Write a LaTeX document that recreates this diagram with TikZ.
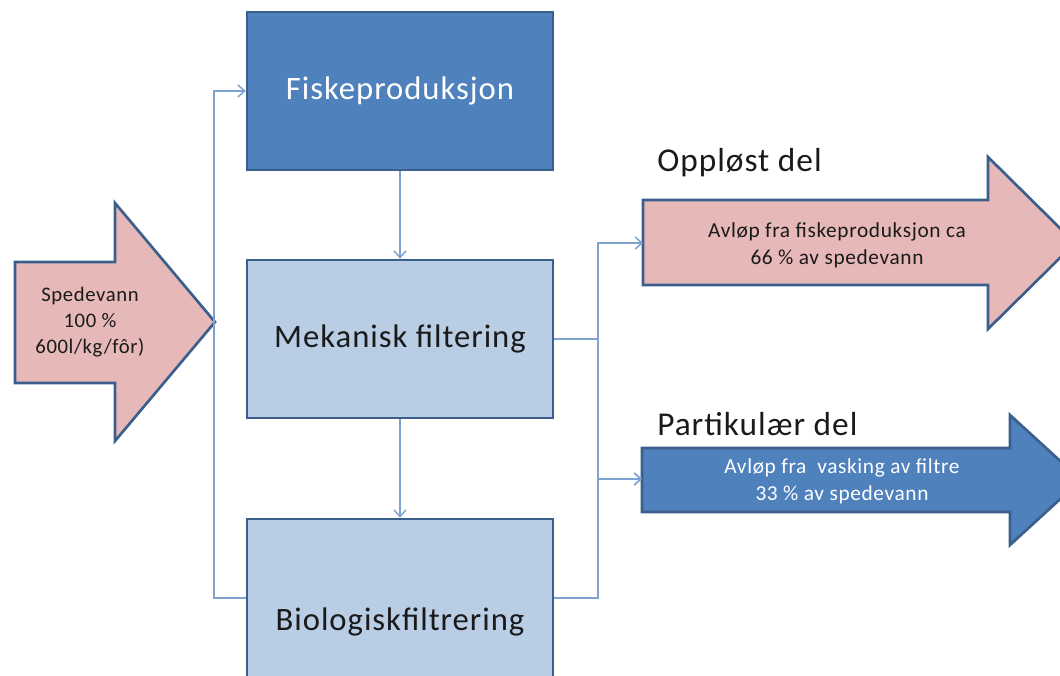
\documentclass[tikz,border=0pt]{standalone}
\usepackage{fontspec}
\setmainfont{Carlito}[LetterSpace=3]
\usetikzlibrary{arrows.meta}
\definecolor{darkblue}{HTML}{4F81BD}
\definecolor{edgeblue}{HTML}{3A5F8D}
\definecolor{lightblue}{HTML}{B9CDE5}
\definecolor{pinkfill}{HTML}{E6B9B8}
\definecolor{linkblue}{HTML}{7EA3D0}
\definecolor{txt}{HTML}{1A1A1A}
\begin{document}
\begin{tikzpicture}[x=0.75pt,y=-0.75pt,
  box/.style={draw=edgeblue, line width=2pt, minimum width=229.5pt, minimum height=118.5pt, inner sep=0pt, font=\fontsize{24.5}{28}\selectfont, text=txt},
  arrowshape/.style={draw=edgeblue, line width=2pt, line join=miter},
  link/.style={draw=linkblue, line width=1.1pt, -{Straight Barb[length=5pt,width=9pt,line width=1.1pt]}},
  small/.style={font=\fontsize{16}{20}\selectfont, align=center, text=txt, inner sep=0pt},
  title/.style={font=\fontsize{25}{29}\selectfont, text=txt, inner sep=0pt, anchor=west}]
\useasboundingbox (0,0) rectangle (1060,675);
\clip (0,0) rectangle (1060,675);

% process boxes
\node[box, fill=darkblue, text=white] (fisk) at (400,91) {Fiskeproduksjon};
\node[box, fill=lightblue] (mek) at (400,339) {Mekanisk filtering};
\node[box, fill=lightblue] (bio) at (400,598) {};
\node[font=\fontsize{24.5}{28}\selectfont, text=txt, inner sep=0pt] (biotext) at (400,622) {Biologiskfiltrering};

% input arrow
\draw[arrowshape, fill=pinkfill] (15,262) -- (115,262) -- (115,203) -- (215,322) -- (115,441) -- (115,383) -- (15,383) -- cycle;
\node[small, font=\fontsize{15.5}{19.5}\selectfont] (sped) at (90,322) {Spedevann\\100 \%\\600l/kg/fôr)};

% output arrows
\draw[arrowshape, fill=pinkfill] (643,200) -- (988,200) -- (988,157) -- (1075,243) -- (988,329) -- (988,285) -- (643,285) -- cycle;
\coordinate (oppin) at (643,243);
\node[small] (opptext) at (837,245) {Avløp fra fiskeproduksjon ca\\66 \% av spedevann};
\node[title] (opptitle) at (657,163) {Oppløst del};

\draw[arrowshape, fill=darkblue] (642,448) -- (1010,448) -- (1010,415) -- (1081,480) -- (1010,545) -- (1010,512) -- (642,512) -- cycle;
\coordinate (partin) at (642,479);
\node[small, text=white] (parttext) at (842,481) {Avløp fra\ \ vasking av filtre\\33 \% av spedevann};
\node[title] (parttitle) at (657,424) {Partikulær del};

% connectors
\draw[link] (fisk.south) -- (mek.north);
\draw[link] (mek.south) -- (bio.north);
\draw[link] (bio.west) -- (214,598) |- (fisk.west);
\draw[link] (mek.east) -- (598,339) |- (oppin);
\draw[link] (mek.east) -- (598,339) |- (partin);
\draw[link] (bio.east) -- (598,598) |- (partin);
\end{tikzpicture}
\end{document}
